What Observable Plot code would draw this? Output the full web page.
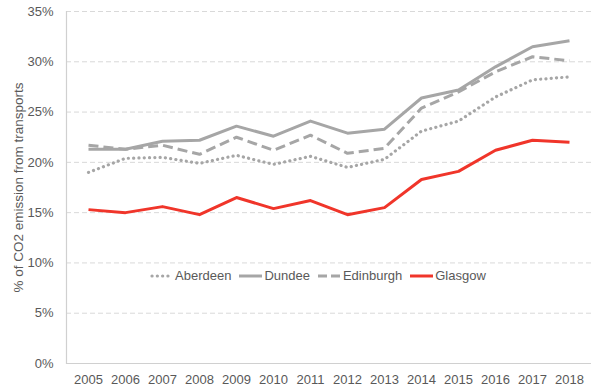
<!DOCTYPE html>
<html>
<head>
<meta charset="utf-8">
<script src="https://cdn.jsdelivr.net/npm/d3@7"></script>
<script src="https://cdn.jsdelivr.net/npm/@observablehq/plot@0.6"></script>
<style>
  html, body { margin: 0; padding: 0; background: #fff; }
  #wrap { position: relative; width: 600px; height: 391px; font-family: "Liberation Sans", Arial, sans-serif; }
  #legend { position: absolute; left: 150px; top: 268px; display: flex; align-items: center; gap: 8px; font-size: 13px; color: #595959; }
  #legend .item { display: flex; align-items: center; gap: 1px; }
  #legend svg { display: block; }
</style>
</head>
<body>
<div id="wrap"></div>
<script>
const years = [2005, 2006, 2007, 2008, 2009, 2010, 2011, 2012, 2013, 2014, 2015, 2016, 2017, 2018];
const aberdeen  = [19.0, 20.4, 20.5, 19.9, 20.7, 19.8, 20.6, 19.5, 20.3, 23.1, 24.1, 26.5, 28.2, 28.5];
const dundee    = [21.3, 21.3, 22.1, 22.2, 23.6, 22.6, 24.1, 22.9, 23.3, 26.4, 27.2, 29.5, 31.5, 32.1];
const edinburgh = [21.7, 21.3, 21.7, 20.8, 22.5, 21.2, 22.7, 20.9, 21.4, 25.4, 27.0, 29.0, 30.5, 30.1];
const glasgow   = [15.3, 15.0, 15.6, 14.8, 16.5, 15.4, 16.2, 14.8, 15.5, 18.3, 19.1, 21.2, 22.2, 22.0];
const yTicks = [0, 5, 10, 15, 20, 25, 30, 35];
const seriesNames = ["Aberdeen", "Dundee", "Edinburgh", "Glasgow"];

const grey = "#a6a6a6";
const red = "#f0352a";
const styles = {
  Aberdeen:  {stroke: grey, dash: "0.1 5.2", cap: "round", width: 3.2},
  Dundee:    {stroke: grey, dash: null, cap: "butt", width: 3},
  Edinburgh: {stroke: grey, dash: "10 5", cap: "butt", width: 3},
  Glasgow:   {stroke: red, dash: null, cap: "butt", width: 3}
};
const seriesData = {Aberdeen: aberdeen, Dundee: dundee, Edinburgh: edinburgh, Glasgow: glasgow};

const lineMarks = seriesNames.map(name => {
  const data = years.map((y, i) => ({year: y, value: seriesData[name][i] / 100}));
  const s = styles[name];
  return Plot.line(data, {
    x: "year", y: "value",
    stroke: s.stroke, strokeWidth: s.width,
    strokeDasharray: s.dash, strokeLinecap: s.cap, strokeLinejoin: "round"
  });
});

const chart = Plot.plot({
  width: 600,
  height: 391,
  marginLeft: 66,
  marginRight: 9,
  marginTop: 11,
  marginBottom: 28,
  style: {fontFamily: "'Liberation Sans', Arial, sans-serif", fontSize: "13px", color: "#595959", background: "#fff"},
  x: {type: "point", domain: years, padding: 0.5},
  y: {domain: [0, 0.35]},
  marks: [
    Plot.ruleY(yTicks.slice(1).map(t => t / 100), {stroke: "#d9d9d9", strokeDasharray: "5 3", strokeWidth: 1}),
    Plot.ruleY([0], {stroke: "#d0d0d0", strokeWidth: 1.2}),
    Plot.frame({anchor: "left", stroke: "#d0d0d0", strokeWidth: 1.2}),
    Plot.axisY({ticks: yTicks.map(t => t / 100), tickFormat: d => Math.round(d * 100) + "%", tickSize: 0, tickPadding: 13, label: null, fontSize: 13}),
    Plot.axisX({ticks: years, tickFormat: d => String(d), tickSize: 0, tickPadding: 11, label: null, fontSize: 13}),
    Plot.text(["% of CO2 emission from transports"], {frameAnchor: "left", textAnchor: "middle", rotate: -90, dx: -48, fontSize: 13.5, fill: "#595959"}),
    ...lineMarks
  ]
});

const wrap = document.getElementById("wrap");
wrap.appendChild(chart);

const legend = document.createElement("div");
legend.id = "legend";
seriesNames.forEach(name => {
  const s = styles[name];
  const item = document.createElement("div");
  item.className = "item";
  const ns = "http://www.w3.org/2000/svg";
  const svg = document.createElementNS(ns, "svg");
  svg.setAttribute("width", "24");
  svg.setAttribute("height", "8");
  const ln = document.createElementNS(ns, "line");
  ln.setAttribute("x1", name === "Aberdeen" ? "2" : "0");
  ln.setAttribute("x2", "23");
  ln.setAttribute("y1", "4");
  ln.setAttribute("y2", "4");
  ln.setAttribute("stroke", s.stroke);
  ln.setAttribute("stroke-width", s.width);
  ln.setAttribute("stroke-linecap", s.cap);
  if (s.dash) ln.setAttribute("stroke-dasharray", name === "Edinburgh" ? "9 4" : s.dash);
  svg.appendChild(ln);
  const txt = document.createElement("span");
  txt.textContent = name;
  item.appendChild(svg);
  item.appendChild(txt);
  legend.appendChild(item);
});
wrap.appendChild(legend);
</script>
</body>
</html>
